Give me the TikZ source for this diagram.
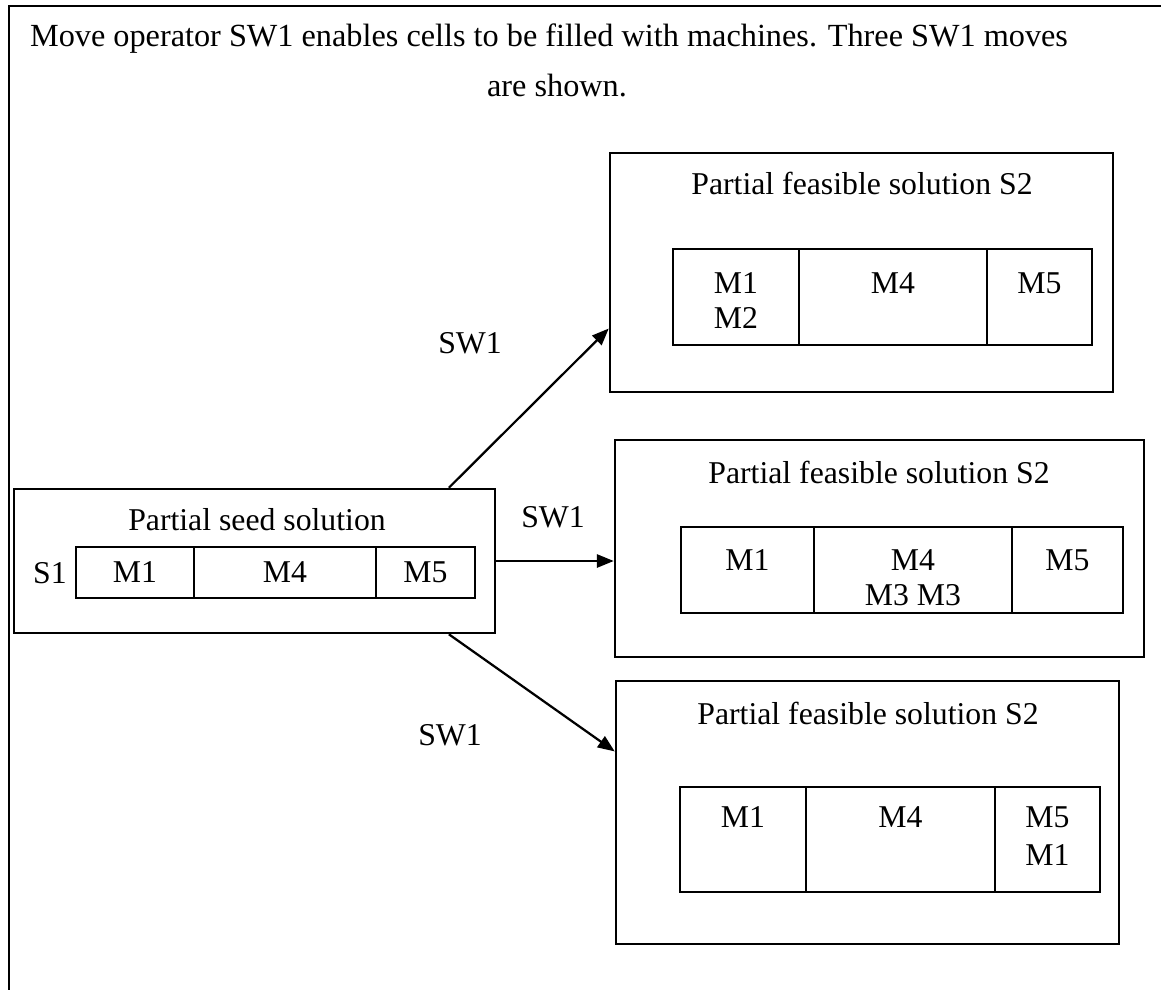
\documentclass[tikz,border=0pt]{standalone}
\usepackage{fontspec}
\setmainfont{Liberation Serif}
\usetikzlibrary{fit,calc,arrows.meta}
\begin{document}
\begin{tikzpicture}[x=0.378pt,y=-0.378pt,
  frame/.style={line width=0.9pt},
  boxnode/.style={draw,line width=0.95pt,inner sep=0pt,fit={#1}},
  cellnode/.style={draw,line width=0.9pt,inner sep=0pt,fit={#1}},
  txt/.style={inner sep=0pt,font=\fontsize{12}{14}\selectfont},
  headtxt/.style={inner sep=0pt,font=\fontsize{12.2}{14}\selectfont},
  arr/.style={line width=0.85pt,-{Triangle[length=6.4pt,width=5pt]}}]
\useasboundingbox (0,0) rectangle (1161,990);
% page frame (top and left edges)
\coordinate (ftl) at (9,6);
\coordinate (ftr) at (1161,6);
\coordinate (fbl) at (9,990);
\draw[frame] (ftr) -- (ftl) -- (fbl);
% heading
\node[headtxt,anchor=base] (head1) at (549,46) {Move operator SW1 enables cells to be filled with machines. Three SW1 moves};
\node[headtxt,anchor=base] (head2) at (557,96) {are shown.};
% seed solution
\node[boxnode={(14,489) (495,633)}] (seed) {};
\node[txt] (seedt) at (257,520) {Partial seed solution};
\node[cellnode={(76,547) (194,598)}] (sc1) {};
\node[cellnode={(194,547) (376,598)}] (sc2) {};
\node[cellnode={(376,547) (475,598)}] (sc3) {};
\node[txt] (s1) at (50,573) {S1};
\node[txt] (sm1) at (sc1.center) {M1};
\node[txt] (sm4) at (sc2.center) {M4};
\node[txt] (sm5) at (sc3.center) {M5};
% top S2
\node[boxnode={(610,153) (1113,392)}] (ta) {};
\node[txt] (tat) at (862,183) {Partial feasible solution S2};
\node[cellnode={(673,249) (799,345)}] (ta1) {};
\node[cellnode={(799,249) (987,345)}] (ta2) {};
\node[cellnode={(987,249) (1092,345)}] (ta3) {};
\node[txt] (tam1) at (736,283) {M1};
\node[txt] (tam2) at (736,318) {M2};
\node[txt] (tam4) at (893,283) {M4};
\node[txt] (tam5) at (1039.5,283) {M5};
% middle S2
\node[boxnode={(615,440) (1144,657)}] (tb) {};
\node[txt] (tbt) at (879,472) {Partial feasible solution S2};
\node[cellnode={(681,527) (814,613)}] (tb1) {};
\node[cellnode={(814,527) (1012,613)}] (tb2) {};
\node[cellnode={(1012,527) (1123,613)}] (tb3) {};
\node[txt] (tbm1) at (747.5,560) {M1};
\node[txt] (tbm4) at (913,560) {M4};
\node[txt] (tbm3) at (913,595) {M3 M3};
\node[txt] (tbm5) at (1067.5,560) {M5};
% bottom S2
\node[boxnode={(616,681) (1119,944)}] (tc) {};
\node[txt] (tct) at (868,713) {Partial feasible solution S2};
\node[cellnode={(680,787) (806,892)}] (tc1) {};
\node[cellnode={(806,787) (995,892)}] (tc2) {};
\node[cellnode={(995,787) (1100,892)}] (tc3) {};
\node[txt] (tcm1) at (743,817) {M1};
\node[txt] (tcm4) at (900.5,817) {M4};
\node[txt] (tcm5) at (1047.5,817) {M5};
\node[txt] (tcm1b) at (1047.5,855) {M1};
% connectors
\draw[arr] ($(seed.north west)!0.902!(seed.north east)$) -- ($(ta.north west)!0.732!(ta.south west)$);
\draw[arr] (seed.east) -- (seed.east -| tb.west);
\draw[arr] ($(seed.south west)!0.902!(seed.south east)$) -- ($(tc.north west)!0.27!(tc.south west)$);
\node[txt] (l1) at (470,343) {SW1};
\node[txt] (l2) at (553,517) {SW1};
\node[txt] (l3) at (450,735) {SW1};
\end{tikzpicture}
\end{document}
